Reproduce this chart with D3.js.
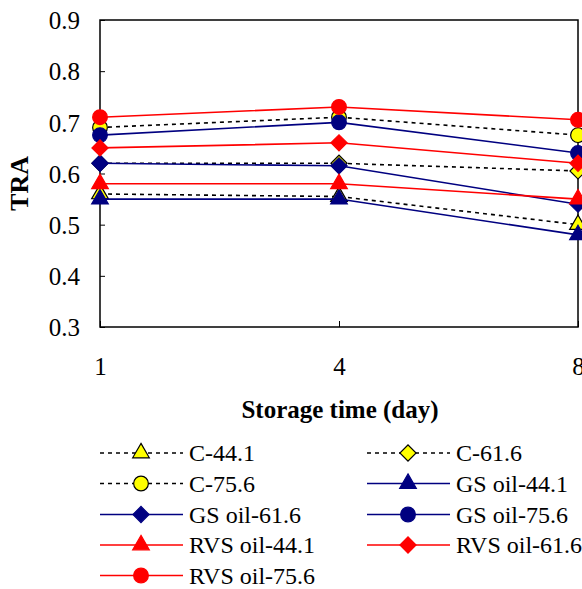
<!DOCTYPE html>
<html lang="en">
<head>
<meta charset="UTF-8">
<title>TRA vs storage time</title>
<script src="https://d3js.org/d3.v7.min.js"></script>
<style>
    body { margin: 0; background: #fff; }
    svg { display: block; font-family: "Liberation Serif", "Times New Roman", serif; }
</style>
</head>
<body>
<div id="chart"></div>
<script>
// Data
const days = ['1', '4', '8'];
const yTicks = [0.3, 0.4, 0.5, 0.6, 0.7, 0.8, 0.9];

const c441 = [0.56, 0.555, 0.50];
const c616 = [0.62, 0.62, 0.605];
const c756 = [0.69, 0.71, 0.675];
const gs441 = [0.55, 0.55, 0.48];
const gs616 = [0.62, 0.615, 0.54];
const gs756 = [0.675, 0.70, 0.64];
const rvs441 = [0.58, 0.58, 0.55];
const rvs616 = [0.65, 0.66, 0.62];
const rvs756 = [0.71, 0.73, 0.705];

const seriesNames = ['C-44.1', 'C-61.6', 'C-75.6', 'GS oil-44.1', 'GS oil-61.6', 'GS oil-75.6',
                     'RVS oil-44.1', 'RVS oil-61.6', 'RVS oil-75.6'];
const seriesValues = [c441, c616, c756, gs441, gs616, gs756, rvs441, rvs616, rvs756];
const shapes = ['triangle', 'diamond', 'circle', 'triangle', 'diamond', 'circle', 'triangle', 'diamond', 'circle'];

// style per group
function styleOf(i) {
    if (i < 3) return { line: '#000', dash: '4,4', fill: '#ffff00', stroke: '#000' };
    if (i < 6) return { line: '#000080', dash: null, fill: '#000080', stroke: '#000080' };
    return { line: '#ff0000', dash: null, fill: '#ff0000', stroke: '#ff0000' };
}

const W = 582, H = 589;
const plot = { left: 100, right: 578, top: 20, bottom: 327 };
const serif = '"Liberation Serif", "Times New Roman", serif';

const svg = d3.select('#chart').append('svg')
    .attr('width', W)
    .attr('height', H);

const x = d3.scalePoint().domain(days).range([plot.left, plot.right]);
const y = d3.scaleLinear().domain([0.3, 0.9]).range([plot.bottom, plot.top]);

// y axis: labels left, ticks inside
const yAxis = svg.append('g')
    .attr('transform', `translate(${plot.left},0)`)
    .call(d3.axisRight(y).tickValues(yTicks).tickSize(5).tickFormat(d3.format('.1f')))
    .attr('font-family', serif);
yAxis.select('.domain').remove();
yAxis.selectAll('line').attr('stroke', '#000');
yAxis.selectAll('text')
    .attr('x', -20)
    .attr('dy', '0.35em')
    .attr('text-anchor', 'end')
    .attr('font-size', 25)
    .attr('fill', '#000');

// x axis: ticks point up into the plot, labels further down
const xAxis = svg.append('g')
    .attr('transform', `translate(0,${plot.bottom})`)
    .call(d3.axisTop(x).tickSize(6))
    .attr('font-family', serif);
xAxis.select('.domain').remove();
xAxis.selectAll('line').attr('stroke', '#000');
xAxis.selectAll('text')
    .attr('y', 48)
    .attr('dy', 0)
    .attr('font-size', 25)
    .attr('text-anchor', 'middle')
    .attr('fill', '#000');

// plot frame
svg.append('rect')
    .attr('x', plot.left)
    .attr('y', plot.top)
    .attr('width', plot.right - plot.left)
    .attr('height', plot.bottom - plot.top)
    .attr('fill', 'none')
    .attr('stroke', '#000')
    .attr('stroke-width', 1.5);

// axis titles
svg.append('text')
    .attr('transform', `translate(28,${(plot.top + plot.bottom) / 2 + 10}) rotate(-90)`)
    .attr('text-anchor', 'middle')
    .attr('font-weight', 'bold')
    .attr('font-size', 26)
    .text('TRA');

svg.append('text')
    .attr('x', 340)
    .attr('y', 418)
    .attr('text-anchor', 'middle')
    .attr('font-weight', 'bold')
    .attr('font-size', 25)
    .text('Storage time (day)');

function symbolPath(shape) {
    if (shape === 'triangle') return d3.symbol(d3.symbolTriangle, 120)();
    if (shape === 'diamond') return d3.symbol(d3.symbolSquare, 130)();
    return d3.symbol(d3.symbolCircle, 170)();
}

function drawMarker(g, shape, cx, cy, st) {
    g.append('path')
        .attr('d', symbolPath(shape))
        .attr('transform', `translate(${cx},${cy})` + (shape === 'diamond' ? ' rotate(45)' : ''))
        .attr('fill', st.fill)
        .attr('stroke', st.stroke)
        .attr('stroke-width', 1.2);
}

const line = d3.line()
    .x((d, i) => x(days[i]))
    .y(d => y(d));

// series, drawn in order so later series sit on top
seriesValues.forEach((vals, i) => {
    const st = styleOf(i);
    const g = svg.append('g');
    g.append('path')
        .datum(vals)
        .attr('d', line)
        .attr('fill', 'none')
        .attr('stroke', st.line)
        .attr('stroke-width', 1.6)
        .attr('stroke-dasharray', st.dash);
    vals.forEach((v, j) => drawMarker(g, shapes[i], x(days[j]), y(v), st));
});

// legend
const legendCols = [100, 367];
const legendRows = [453, 483.5, 514.5, 545, 575.5];
seriesNames.forEach((name, i) => {
    const st = styleOf(i);
    const lx = legendCols[i % 2];
    const ly = legendRows[Math.floor(i / 2)];
    const g = svg.append('g');
    g.append('line')
        .attr('x1', lx).attr('x2', lx + 83)
        .attr('y1', ly).attr('y2', ly)
        .attr('stroke', st.line)
        .attr('stroke-width', 1.6)
        .attr('stroke-dasharray', st.dash);
    drawMarker(g, shapes[i], lx + 41, ly, st);
    g.append('text')
        .attr('x', lx + 89)
        .attr('y', ly)
        .attr('dy', '0.35em')
        .attr('font-size', 24)
        .text(name);
});
</script>
</body>
</html>
